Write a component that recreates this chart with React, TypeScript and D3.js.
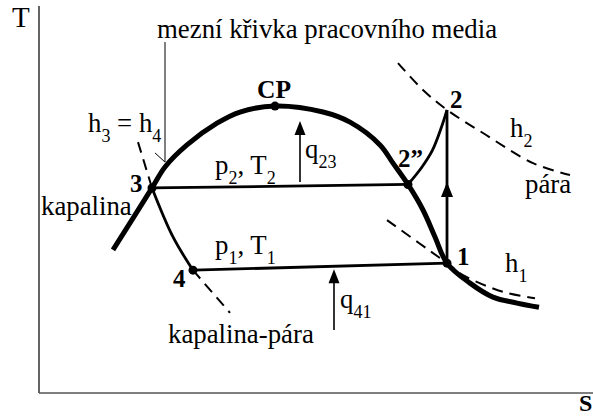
import React, { useEffect } from 'react';
import * as d3 from 'd3';

const WIDTH = 593;
const HEIGHT = 419;

// Axis extents in (arbitrary) entropy / temperature units
const S_DOMAIN: [number, number] = [0, 11.08];
const T_DOMAIN: [number, number] = [0, 11.06];

// Saturation dome: liquid line, critical point and vapour line (s, T)
const domeS = [1.48, 2.26, 2.52, 2.96, 3.56, 4.02, 4.72, 5.68, 6.22, 6.82, 7.08, 7.38, 7.68, 7.92, 8.16, 8.62, 9.08, 9.56, 10.0];
const domeT = [4.09, 5.86, 6.46, 7.09, 7.71, 8.03, 8.2, 8.03, 7.74, 7.09, 6.57, 5.96, 5.23, 4.46, 3.71, 3.14, 2.74, 2.57, 2.45];

// Cycle state points
const stateNames = ['1', '2', '2”', '3', '4', 'CP'];
const stateS = [8.16, 8.16, 7.38, 2.26, 3.08, 4.72];
const stateT = [3.71, 8.09, 5.96, 5.86, 3.51, 8.2];
const markedStates = ['1', '2”', '3', '4', 'CP'];

// Superheating in the condenser 2'' -> 2
const superheatS = [7.38, 7.66, 7.87, 8.05, 8.16];
const superheatT = [5.96, 6.46, 6.94, 7.6, 8.09];

// Throttling 3 -> 4 (h3 = h4)
const throttleS = [2.26, 2.68, 3.08];
const throttleT = [5.86, 4.46, 3.51];

// Isenthalps (dashed)
const h34UpperS = [1.98, 2.26];
const h34UpperT = [7.17, 5.86];
const h34LowerS = [3.08, 3.82];
const h34LowerT = [3.51, 2.29];
const h2S = [7.18, 7.68, 8.16, 8.88, 9.88, 10.62];
const h2T = [9.43, 8.66, 8.09, 7.43, 6.57, 6.23];
const h1S = [6.96, 8.16, 8.48, 9.28, 9.92];
const h1T = [4.94, 3.71, 3.37, 2.89, 2.71];

// Heat flow arrows (s, T from, T to)
const heatArrows = [
  { s: 5.22, from: 6.03, to: 7.77 },
  { s: 5.9, from: 1.8, to: 3.54 },
];
// Direction arrow on the compression line 1 -> 2
const compressionArrowT = 6.03;

// Leader of the dome caption
const leaderS = [2.52, 2.52, 2.32];
const leaderT = [10.03, 6.6, 6.86];

type Part = { t: string; sub?: boolean };
type Label = { s: number; T: number; parts: Part[]; size: number; bold?: boolean };

const labels: Label[] = [
  { s: -0.54, T: 10.46, parts: [{ t: 'T' }], size: 29 },
  { s: 10.8, T: -0.52, parts: [{ t: 'S' }], size: 24, bold: true },
  { s: 2.36, T: 10.14, parts: [{ t: 'mezní křivka pracovního media' }], size: 26.8 },
  { s: 0.98, T: 7.46, parts: [{ t: 'h' }, { t: '3', sub: true }, { t: ' = h' }, { t: '4', sub: true }], size: 26.8 },
  { s: 0.04, T: 5.09, parts: [{ t: 'kapalina' }], size: 26.8 },
  { s: 2.58, T: 1.43, parts: [{ t: 'kapalina-pára' }], size: 26.8 },
  { s: 3.52, T: 6.25, parts: [{ t: 'p' }, { t: '2', sub: true }, { t: ', T' }, { t: '2', sub: true }], size: 26.8 },
  { s: 3.52, T: 3.97, parts: [{ t: 'p' }, { t: '1', sub: true }, { t: ', T' }, { t: '1', sub: true }], size: 26.8 },
  { s: 5.32, T: 6.71, parts: [{ t: 'q' }, { t: '23', sub: true }], size: 26.8 },
  { s: 6.02, T: 2.43, parts: [{ t: 'q' }, { t: '41', sub: true }], size: 26.8 },
  { s: 9.42, T: 7.31, parts: [{ t: 'h' }, { t: '2', sub: true }], size: 26.8 },
  { s: 9.32, T: 3.46, parts: [{ t: 'h' }, { t: '1', sub: true }], size: 26.8 },
  { s: 9.72, T: 5.71, parts: [{ t: 'pára' }], size: 26.8 },
  { s: 4.36, T: 8.43, parts: [{ t: 'CP' }], size: 25.5, bold: true },
  { s: 1.82, T: 5.74, parts: [{ t: '3' }], size: 25, bold: true },
  { s: 2.68, T: 3.03, parts: [{ t: '4' }], size: 25, bold: true },
  { s: 7.18, T: 6.46, parts: [{ t: '2”' }], size: 25, bold: true },
  { s: 8.22, T: 8.14, parts: [{ t: '2' }], size: 25, bold: true },
  { s: 8.36, T: 3.66, parts: [{ t: '1' }], size: 25, bold: true },
];

const FONT = '"Liberation Serif", "Times New Roman", Times, serif';

const x = d3.scaleLinear().domain(S_DOMAIN).range([39, WIDTH]);
const y = d3.scaleLinear().domain(T_DOMAIN).range([393, 6]);

const zip = (a: number[], b: number[]): [number, number][] => a.map((v, i) => [v, b[i]]);

const smooth = d3
  .line<[number, number]>()
  .x((d) => x(d[0]))
  .y((d) => y(d[1]))
  .curve(d3.curveCatmullRom.alpha(0.5));
const straight = d3
  .line<[number, number]>()
  .x((d) => x(d[0]))
  .y((d) => y(d[1]));

function arrowHead(s: number, tipT: number, len = 14, half = 5) {
  const cx = x(s);
  const ty = y(tipT);
  return `M${cx},${ty} L${cx - half},${ty + len} L${cx + half},${ty + len} Z`;
}

export default function App() {
  useEffect(() => {
    document.body.style.margin = '0';
  }, []);

  const state = (name: string): [number, number] => {
    const i = stateNames.indexOf(name);
    return [stateS[i], stateT[i]];
  };

  const dash = '11,7';

  return (
    <svg
      width={WIDTH}
      height={HEIGHT}
      style={{ position: 'absolute', left: 0, top: 0, background: '#fff' }}
      fontFamily={FONT}
    >
      <rect width={WIDTH} height={HEIGHT} fill="#fff" />
      {/* axes */}
      <line x1={x(0)} x2={x(0)} y1={y(T_DOMAIN[1])} y2={y(0)} stroke="#111" strokeWidth={1.3} />
      <line x1={x(0)} x2={x(S_DOMAIN[1])} y1={y(0)} y2={y(0)} stroke="#555" strokeWidth={1.5} />

      {/* leader of the dome caption */}
      <path d={straight(zip(leaderS, leaderT)) || ''} fill="none" stroke="#000" strokeWidth={1} />

      {/* isenthalps */}
      <g fill="none" stroke="#000" strokeWidth={2} strokeDasharray={dash}>
        <path d={straight(zip(h34UpperS, h34UpperT)) || ''} />
        <path d={straight(zip(h34LowerS, h34LowerT)) || ''} />
        <path d={smooth(zip(h2S, h2T)) || ''} />
        <path d={smooth(zip(h1S, h1T)) || ''} />
      </g>

      {/* saturation dome */}
      <path d={smooth(zip(domeS, domeT)) || ''} fill="none" stroke="#000" strokeWidth={5} strokeLinecap="butt" />

      {/* cycle */}
      <g fill="none" stroke="#000" strokeWidth={2.8}>
        <path d={straight([state('3'), state('2”')]) || ''} />
        <path d={straight([state('4'), state('1')]) || ''} />
        <path d={straight([state('1'), state('2')]) || ''} />
        <path d={smooth(zip(superheatS, superheatT)) || ''} />
        <path d={smooth(zip(throttleS, throttleT)) || ''} />
      </g>
      <path d={arrowHead(state('1')[0], compressionArrowT, 15, 6)} fill="#000" />

      {/* heat flow arrows */}
      {heatArrows.map((a, i) => (
        <g key={i}>
          <line x1={x(a.s)} x2={x(a.s)} y1={y(a.from)} y2={y(a.to) + 10} stroke="#000" strokeWidth={1.6} />
          <path d={arrowHead(a.s, a.to, 14, 5.5)} fill="#000" />
        </g>
      ))}

      {/* state markers */}
      {markedStates.map((n) => {
        const [s, T] = state(n);
        return <circle key={n} cx={x(s)} cy={y(T)} r={4.5} fill="#000" />;
      })}

      {/* labels */}
      {labels.map((l, i) => (
        <text
          key={i}
          x={x(l.s)}
          y={y(l.T)}
          fontSize={l.size}
          fontWeight={l.bold ? 'bold' : 'normal'}
          fill="#000"
        >
          {l.parts.map((p, j) => {
            const prevSub = j > 0 && l.parts[j - 1].sub;
            const dy = p.sub ? 10 : prevSub ? -10 : 0;
            return (
              <tspan key={j} dy={dy} fontSize={p.sub ? 18 : undefined}>
                {p.t}
              </tspan>
            );
          })}
        </text>
      ))}
    </svg>
  );
}
